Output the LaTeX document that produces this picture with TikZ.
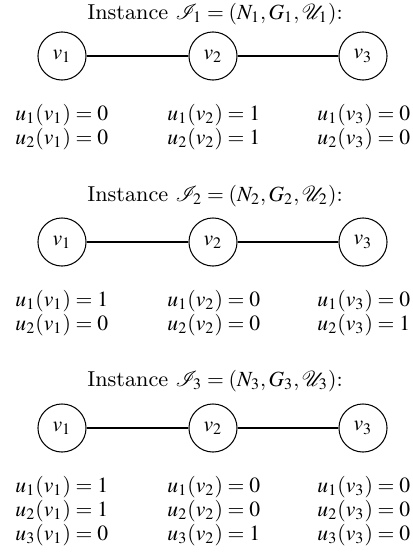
\documentclass[tikz,border=0pt]{standalone}
\usepackage{mathptmx}
\begin{document}
\begin{tikzpicture}[x=0.4348pt,y=-0.4348pt,
  every node/.style={font=\fontsize{9.4}{11}\selectfont},
  vert/.style={circle,draw,line width=0.45pt,minimum size=20.9pt,inner sep=0pt},
  edge/.style={draw,line width=0.45pt},
  lbl/.style={anchor=base west,inner sep=0pt},
  ttl/.style={anchor=base,inner sep=0pt}]
\useasboundingbox (0,0) rectangle (413,554);
% ---- Instance 1
\node[ttl] (t1) at (215,19) {Instance $\mathcal{I}_1=(N_1,G_1,\mathcal{U}_1)$:};
\node[vert] (a1) at (62,56) {$v_1$};
\node[vert] (a2) at (213,56) {$v_2$};
\node[vert] (a3) at (363,56) {$v_3$};
\draw[edge] (a1) -- (a2);
\draw[edge] (a2) -- (a3);
\node[lbl] (p11) at (15,120) {$u_1(v_1)=0$};
\node[lbl] (p12) at (167,120) {$u_1(v_2)=1$};
\node[lbl] (p13) at (317,120) {$u_1(v_3)=0$};
\node[lbl] (p21) at (15,144) {$u_2(v_1)=0$};
\node[lbl] (p22) at (167,144) {$u_2(v_2)=1$};
\node[lbl] (p23) at (317,144) {$u_2(v_3)=0$};
% ---- Instance 2
\node[ttl] (t2) at (215,201) {Instance $\mathcal{I}_2=(N_2,G_2,\mathcal{U}_2)$:};
\node[vert] (b1) at (62,242) {$v_1$};
\node[vert] (b2) at (213,242) {$v_2$};
\node[vert] (b3) at (363,242) {$v_3$};
\draw[edge] (b1) -- (b2);
\draw[edge] (b2) -- (b3);
\node[lbl] (q11) at (15,306) {$u_1(v_1)=1$};
\node[lbl] (q12) at (167,306) {$u_1(v_2)=0$};
\node[lbl] (q13) at (317,306) {$u_1(v_3)=0$};
\node[lbl] (q21) at (15,330) {$u_2(v_1)=0$};
\node[lbl] (q22) at (167,330) {$u_2(v_2)=0$};
\node[lbl] (q23) at (317,330) {$u_2(v_3)=1$};
% ---- Instance 3
\node[ttl] (t3) at (215,386) {Instance $\mathcal{I}_3=(N_3,G_3,\mathcal{U}_3)$:};
\node[vert] (c1) at (62,428) {$v_1$};
\node[vert] (c2) at (213,428) {$v_2$};
\node[vert] (c3) at (363,428) {$v_3$};
\draw[edge] (c1) -- (c2);
\draw[edge] (c2) -- (c3);
\node[lbl] (r11) at (15,492) {$u_1(v_1)=1$};
\node[lbl] (r12) at (167,492) {$u_1(v_2)=0$};
\node[lbl] (r13) at (317,492) {$u_1(v_3)=0$};
\node[lbl] (r21) at (15,516) {$u_2(v_1)=1$};
\node[lbl] (r22) at (167,516) {$u_2(v_2)=0$};
\node[lbl] (r23) at (317,516) {$u_2(v_3)=0$};
\node[lbl] (r31) at (15,540) {$u_3(v_1)=0$};
\node[lbl] (r32) at (167,540) {$u_3(v_2)=1$};
\node[lbl] (r33) at (317,540) {$u_3(v_3)=0$};
\end{tikzpicture}
\end{document}
